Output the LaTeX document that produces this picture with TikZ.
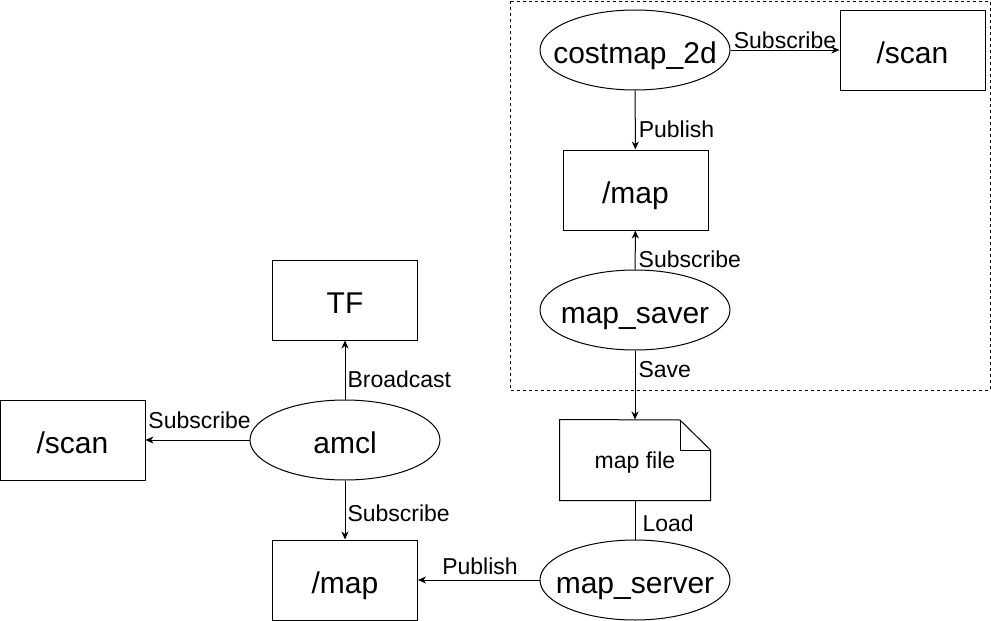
\documentclass[tikz,border=0pt]{standalone}
\usepackage{fontspec}
\setmainfont{Liberation Sans}
\usetikzlibrary{shapes.geometric,arrows.meta}
\newcommand\ovt[1]{\makebox[0pt]{#1}}
\tikzset{
  box/.style={draw, rectangle, minimum width=145pt, minimum height=80pt, inner sep=0pt, text height=30pt, text depth=3pt, font=\fontsize{30}{36}\selectfont},
  oval/.style={draw, ellipse, minimum width=190pt, minimum height=80pt, inner sep=0pt, text height=30pt, text depth=3pt, font=\fontsize{30}{36}\selectfont},
  lbl/.style={font=\fontsize{23}{27}\selectfont, inner sep=0pt},
  conn/.style={-{Stealth[length=8pt,width=7pt,inset=2.5pt]}},
}
\begin{document}
\begin{tikzpicture}[x=1pt,y=-1pt,line width=1pt]
\useasboundingbox (0,0) rectangle (991,621);
% dashed group
\draw[dash pattern=on 3pt off 3pt, line width=0.8pt] (510,1) rectangle (990,390);
% nodes
\node[oval] (costmap) at (635,50) {\ovt{costmap\_2d}};
\node[box] (scanA) at (912.5,50) {/scan};
\node[box] (mapA) at (635.5,190) {/map};
\node[oval] (saver) at (635,310) {\ovt{map\_saver}};
\node[rectangle, minimum width=150pt, minimum height=80pt, inner sep=0pt, text height=18pt, text depth=2pt, font=\fontsize{23}{27}\selectfont] (mfile) at (635,460) {map file};
\draw (mfile.north west) -- (680,420) -- (mfile.north east |- 0,450) -- (mfile.south east) -- (mfile.south west) -- cycle;
\draw (680,420) -- (680,450) -- (mfile.north east |- 0,450);
\node[oval] (server) at (635,580) {\ovt{map\_server}};
\node[box] (tf) at (345,300) {TF};
\node[oval] (amcl) at (345,440) {\ovt{amcl}};
\node[box] (scanB) at (72.5,440) {/scan};
\node[box] (mapB) at (345,580) {/map};
% connectors
\draw[conn] (costmap) -- node[lbl, pos=0.5, anchor=base, yshift=2pt] {Subscribe} (scanA);
\draw[conn] (costmap) -- node[lbl, pos=0.8, anchor=base west, xshift=3pt] {Publish} (mapA);
\draw[conn] (saver) -- node[lbl, pos=0.05, anchor=base west, xshift=3pt] {Subscribe} (mapA);
\draw[conn] (saver) -- node[lbl, pos=0.386, anchor=base west, xshift=3pt] {Save} (mfile);
\draw (mfile) -- node[lbl, pos=0.8, anchor=base west, xshift=7pt] {Load} (server);
\draw[conn] (server) -- node[lbl, pos=0.49, anchor=base, yshift=6pt] {Publish} (mapB);
\draw[conn] (amcl) -- node[lbl, pos=0.2, anchor=base west, xshift=2pt] {Broadcast} (tf);
\draw[conn] (amcl) -- node[lbl, pos=0.48, anchor=base, yshift=12pt] {Subscribe} (scanB);
\draw[conn] (amcl) -- node[lbl, pos=0.7, anchor=base west, xshift=2pt] {Subscribe} (mapB);
\end{tikzpicture}
\end{document}
